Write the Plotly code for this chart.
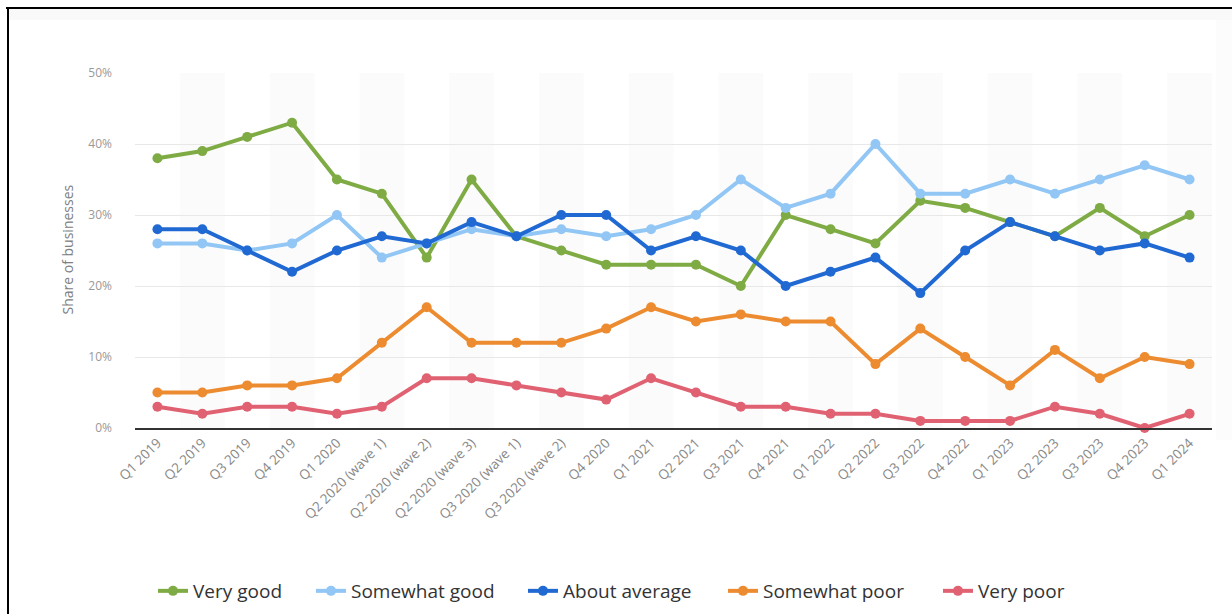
import plotly.graph_objects as go

categories = ["Q1 2019", "Q2 2019", "Q3 2019", "Q4 2019", "Q1 2020",
              "Q2 2020 (wave 1)", "Q2 2020 (wave 2)", "Q2 2020 (wave 3)",
              "Q3 2020 (wave 1)", "Q3 2020 (wave 2)", "Q4 2020", "Q1 2021",
              "Q2 2021", "Q3 2021", "Q4 2021", "Q1 2022", "Q2 2022", "Q3 2022",
              "Q4 2022", "Q1 2023", "Q2 2023", "Q3 2023", "Q4 2023", "Q1 2024"]

very_good = [38, 39, 41, 43, 35, 33, 24, 35, 27, 25, 23, 23, 23, 20, 30, 28, 26, 32, 31, 29, 27, 31, 27, 30]
somewhat_good = [26, 26, 25, 26, 30, 24, 26, 28, 27, 28, 27, 28, 30, 35, 31, 33, 40, 33, 33, 35, 33, 35, 37, 35]
about_average = [28, 28, 25, 22, 25, 27, 26, 29, 27, 30, 30, 25, 27, 25, 20, 22, 24, 19, 25, 29, 27, 25, 26, 24]
somewhat_poor = [5, 5, 6, 6, 7, 12, 17, 12, 12, 12, 14, 17, 15, 16, 15, 15, 9, 14, 10, 6, 11, 7, 10, 9]
very_poor = [3, 2, 3, 3, 2, 3, 7, 7, 6, 5, 4, 7, 5, 3, 3, 2, 2, 1, 1, 1, 3, 2, 0, 2]

y_ticks = [0, 10, 20, 30, 40, 50]
y_tick_labels = ["0%", "10%", "20%", "30%", "40%", "50%"]

series = [
    ("Very good", very_good, "#7fab44"),
    ("Somewhat good", somewhat_good, "#92c6f5"),
    ("About average", about_average, "#2169d2"),
    ("Somewhat poor", somewhat_poor, "#ec8b2f"),
    ("Very poor", very_poor, "#e06272"),
]

W, H = 1232, 614
L, R, T, B = 135, 20, 73, 186
pw, ph = W - L - R, H - T - B

def px_x(px):
    return (px - L) / pw
def px_y(py):
    return (H - B - py) / ph

legend_px = [153, 311, 523, 723, 938]
legend_ids = ["legend", "legend2", "legend3", "legend4", "legend5"]

fig = go.Figure()
for (name, vals, col), lid in zip(series, legend_ids):
    fig.add_trace(go.Scatter(
        x=list(range(len(categories))), y=vals, name=name, mode="lines+markers",
        line=dict(color=col, width=4),
        marker=dict(color=col, size=10),
        cliponaxis=False, legend=lid,
    ))

shapes = []
for i in range(1, len(categories), 2):
    shapes.append(dict(type="rect", xref="x", yref="paper", x0=i - 0.5, x1=i + 0.5,
                       y0=0, y1=1, fillcolor="rgba(0,0,0,0.014)", line=dict(width=0),
                       layer="below"))
# faint grey bands near frame
shapes.append(dict(type="rect", xref="paper", yref="paper", x0=px_x(8), x1=px_x(1240),
                   y0=px_y(20), y1=px_y(8), fillcolor="rgba(0,0,0,0.022)", line=dict(width=0),
                   layer="below"))
shapes.append(dict(type="rect", xref="paper", yref="paper", x0=px_x(1216), x1=px_x(1240),
                   y0=px_y(440), y1=px_y(20), fillcolor="rgba(0,0,0,0.012)", line=dict(width=0),
                   layer="below"))
# outer frame (top & left)
shapes.append(dict(type="line", xref="paper", yref="paper", x0=px_x(6), x1=px_x(1240),
                   y0=px_y(8), y1=px_y(8), line=dict(color="black", width=2)))
shapes.append(dict(type="line", xref="paper", yref="paper", x0=px_x(8), x1=px_x(8),
                   y0=px_y(7), y1=px_y(620), line=dict(color="black", width=2)))

legend_layout = {}
for lid, lx in zip(legend_ids, legend_px):
    legend_layout[lid] = dict(orientation="h", x=px_x(lx), y=px_y(591), xanchor="left",
                              yanchor="middle", font=dict(size=19, color="#333333"),
                              itemwidth=30, bgcolor="rgba(0,0,0,0)")

fig.update_layout(
    width=W, height=H,
    margin=dict(l=L, r=R, t=T, b=B, autoexpand=False),
    paper_bgcolor="white", plot_bgcolor="white",
    font=dict(family="Open Sans, DejaVu Sans, sans-serif"),
    shapes=shapes,
    showlegend=True,
    annotations=[dict(text="Share of businesses", xref="paper", yref="paper",
                      x=px_x(55), y=px_y(250), showarrow=False, textangle=-90,
                      font=dict(size=14, color="#808080"))],
    xaxis=dict(
        tickmode="array", tickvals=list(range(len(categories))), ticktext=categories,
        range=[-0.5, len(categories) - 0.5], tickangle=-45,
        tickfont=dict(size=13.5, color="#888888"), automargin=False,
        showgrid=False, showline=True, linecolor="#333333", linewidth=1.5,
        ticks="", zeroline=False,
    ),
    yaxis=dict(
        range=[0, 50], tickmode="array", tickvals=y_ticks, ticktext=y_tick_labels,
        tickfont=dict(size=12, color="#999999"), automargin=False,
        showgrid=True, gridcolor="#e8e8e8", gridwidth=1, zeroline=False,
        showline=False, ticks="", ticklabelstandoff=22,
    ),
    **legend_layout,
)

fig.write_html("out.html")
